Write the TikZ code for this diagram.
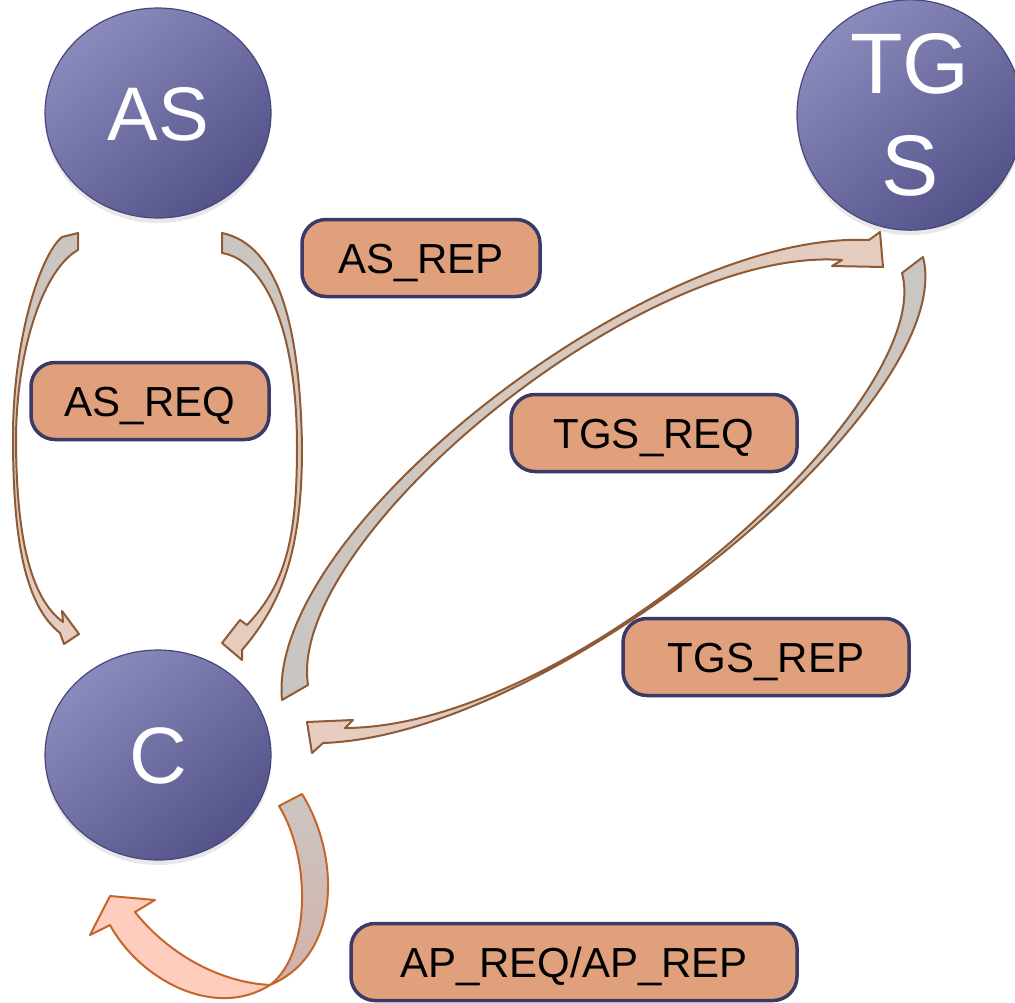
\documentclass[tikz,border=0pt]{standalone}
\usepackage{fontspec}
\setmainfont{Liberation Sans}
\usetikzlibrary{shapes.geometric,shadows}
\definecolor{circA}{HTML}{8A8ABC}
\definecolor{circB}{HTML}{53538A}
\definecolor{circE}{HTML}{47477C}
\definecolor{boxF}{HTML}{E0A07C}
\definecolor{boxE}{HTML}{3A3A66}
\definecolor{arrE}{HTML}{8E5B36}
\definecolor{arrG}{HTML}{C8C5C1}
\definecolor{arrP}{HTML}{E7CDBF}
\definecolor{apE}{HTML}{C5652C}
\definecolor{apGa}{HTML}{CBC6C3}
\definecolor{apGb}{HTML}{D2B1A8}
\definecolor{apP}{HTML}{FFCDBD}
\begin{document}
\begin{tikzpicture}[x=1pt,y=-1pt,
  party/.style={ellipse, draw=circE, line width=1.2pt, top color=circA, bottom color=circB,
    shading angle=40, minimum width=226pt, minimum height=210pt, inner sep=0pt, text=white,
    drop shadow={opacity=0.18, shadow xshift=0pt, shadow yshift=-5pt}},
  msg/.style={draw=boxE, line width=3.5pt, fill=boxF, rounded corners=24pt, minimum height=77pt,
    inner sep=0pt, text height=30pt, text depth=0pt, font=\fontsize{42}{48}\selectfont},
  ribbon/.style={draw=arrE, line width=2pt, line join=round},
  apribbon/.style={draw=apE, line width=2pt, line join=round}]
\useasboundingbox (0,0) rectangle (1015,1002);

% AS_REQ ribbon (AS -> C, left)
\shadedraw[ribbon, top color=arrG, bottom color=arrP]
  (62,237) -- (78,233) -- (78,250)
  .. controls (45,268) and (17,345) .. (16,437)
  .. controls (16,535) and (30,598) .. (63,622)
  -- (62,611) -- (79,634) -- (64,644) -- (60,633)
  .. controls (25,605) and (13,540) .. (13,437)
  .. controls (13,340) and (40,255) .. (62,237) -- cycle;

% AS_REP ribbon (AS -> C, right)
\shadedraw[ribbon, top color=arrG, bottom color=arrP]
  (222,233) .. controls (280,245) and (300,330) .. (302,447)
  .. controls (302,545) and (285,600) .. (242,650)
  -- (242,660) -- (222,643) -- (240,620) -- (247,625)
  .. controls (285,585) and (297,540) .. (297,447)
  .. controls (297,330) and (265,260) .. (222,253) -- cycle;

% TGS_REQ ribbon (C -> TGS)
\shadedraw[ribbon, left color=arrG, right color=arrP]
  (282,700) -- (308,685)
  .. controls (286,540) and (640,245) .. (842,260)
  -- (832,266) -- (883,267) -- (880,232) -- (869,240)
  .. controls (650,230) and (266,530) .. (282,700) -- cycle;

% TGS_REP ribbon (TGS -> C)
\shadedraw[ribbon, left color=arrP, right color=arrG]
  (902,273) -- (923,257)
  .. controls (960,400) and (560,735) .. (323,743)
  -- (312,753) -- (307,722) -- (353,720) -- (345,728)
  .. controls (578,727) and (937,400) .. (902,273) -- cycle;

% AP ribbon (C -> C)
\filldraw[apribbon, fill=apP]
  (270,985) .. controls (215,982) and (165,950) .. (135,912)
  -- (155,900) -- (110,896) -- (90,935) -- (110,925)
  .. controls (140,980) and (215,1020) .. (270,985) -- cycle;
\shadedraw[apribbon, top color=apGa, bottom color=apGb]
  (279,806) -- (302,794) .. controls (340,855) and (342,955) .. (270,985)
  .. controls (310,955) and (312,860) .. (279,806) -- cycle;

% parties
\node[party, font=\fontsize{76}{80}\selectfont, text height=54pt, text depth=0pt] (AS) at (158,113) {AS};
\node[party, font=\fontsize{80}{84}\selectfont, text height=57pt, text depth=0pt] (C) at (158,755) {C};
\node[party, minimum height=214pt, font=\fontsize{86}{102}\selectfont, align=center] (TGS) at (910,115) {TG\\S};

% messages
\node[msg, minimum width=238pt] (asrep) at (421,258) {AS\_REP};
\node[msg, minimum width=238pt] (asreq) at (150,401) {AS\_REQ};
\node[msg, minimum width=286pt] (tgsreq) at (654,433) {TGS\_REQ};
\node[msg, minimum width=286pt] (tgsrep) at (766,657) {TGS\_REP};
\node[msg, minimum width=446pt] (ap) at (574,962) {AP\_REQ/AP\_REP};
\end{tikzpicture}
\end{document}
